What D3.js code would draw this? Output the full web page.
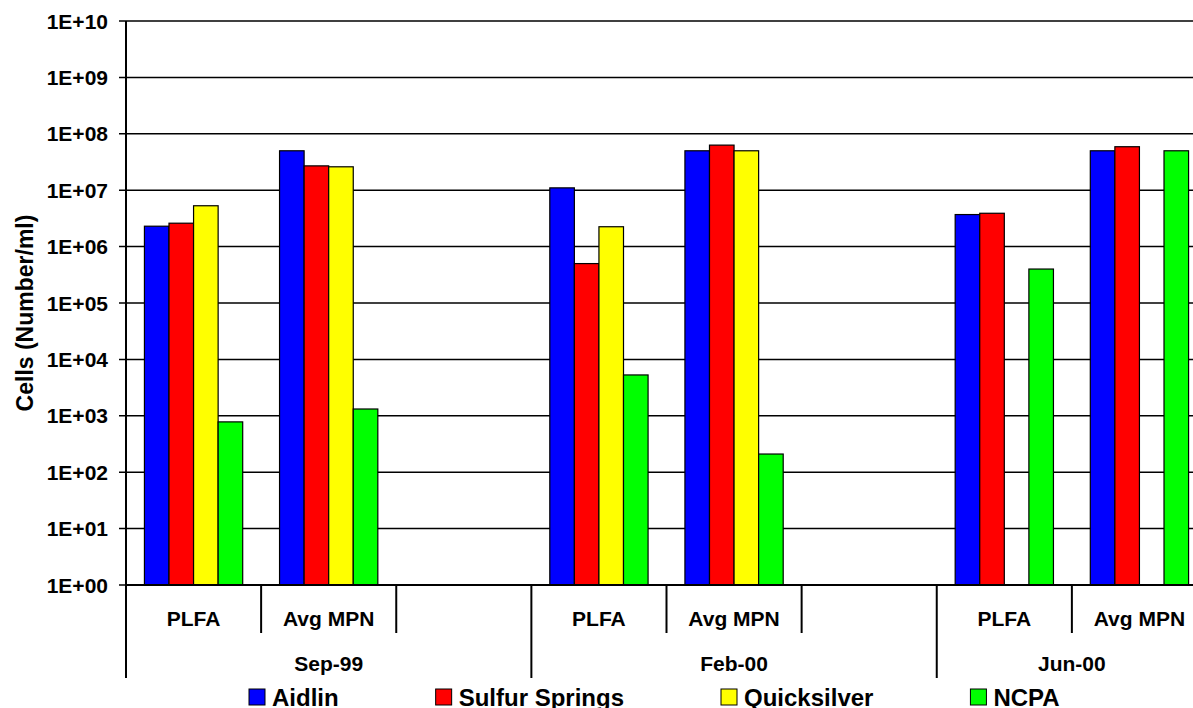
<!DOCTYPE html>
<html lang="en">
<head>
<meta charset="utf-8">
<title>Cells per ml</title>
<script src="https://cdn.jsdelivr.net/npm/d3@7"></script>
<style>
    body { margin: 0; padding: 0; background: #fff; }
    svg { display: block; font-family: "Liberation Sans", Arial, sans-serif; font-weight: bold; }
    .tick-label { font-size: 21px; }
    .cat-label { font-size: 21px; }
    .legend text { font-size: 24px; }
</style>
</head>
<body>
<svg id="chart" width="1193" height="708"></svg>
<script>
// slots along the x axis (blank slot separates the sampling dates)
var categories = ["PLFA", "Avg MPN", "", "PLFA", "Avg MPN", "", "PLFA", "Avg MPN"];
var periods = ["Sep-99", "Sep-99", "Sep-99", "Feb-00", "Feb-00", "Feb-00", "Jun-00", "Jun-00"];

var seriesNames = ["Aidlin", "Sulfur Springs", "Quicksilver", "NCPA"];
var seriesColors = ["#0000ff", "#ff0000", "#ffff00", "#00ff00"];

var aidlin        = [2.3e6, 5.0e7, null, 1.1e7,  5.0e7, null, 3.7e6, 5.0e7];
var sulfurSprings = [2.6e6, 2.7e7, null, 5.0e5,  6.3e7, null, 3.9e6, 5.9e7];
var quicksilver   = [5.3e6, 2.6e7, null, 2.25e6, 5.0e7, null, null,  null];
var ncpa          = [780,   1320,  null, 5300,   210,   null, 4.0e5, 5.0e7];

var yTicks = [1, 1e1, 1e2, 1e3, 1e4, 1e5, 1e6, 1e7, 1e8, 1e9, 1e10];

var seriesValues = [aidlin, sulfurSprings, quicksilver, ncpa];

var svg = d3.select("#chart");
var plotLeft = 126, plotRight = 1207, plotTop = 21, plotBottom = 585;

var x = d3.scaleBand()
    .domain(d3.range(categories.length))
    .range([plotLeft, plotRight])
    .paddingInner(0)
    .paddingOuter(0);

var xInner = d3.scaleBand()
    .domain(seriesNames)
    .range([0, x.bandwidth()])
    .paddingInner(0)
    .paddingOuter(0.75);

var y = d3.scaleLog()
    .domain([1, 1e10])
    .range([plotBottom, plotTop]);

var color = d3.scaleOrdinal().domain(seriesNames).range(seriesColors);

// gridlines
svg.append("g")
    .selectAll("line")
    .data(yTicks)
    .enter().append("line")
    .attr("x1", plotLeft - 7)
    .attr("x2", plotRight)
    .attr("y1", function (d) { return y(d); })
    .attr("y2", function (d) { return y(d); })
    .attr("stroke", "#000")
    .attr("stroke-width", 1.5);

// y tick labels
svg.append("g")
    .selectAll("text")
    .data(yTicks)
    .enter().append("text")
    .attr("class", "tick-label")
    .attr("x", 108)
    .attr("y", function (d) { return y(d); })
    .attr("dy", "0.36em")
    .attr("text-anchor", "end")
    .text(function (d) {
        var e = Math.round(Math.log10(d));
        return "1E+" + (e < 10 ? "0" + e : e);
    });

// bars
var rows = [];
seriesValues.forEach(function (vals, s) {
    vals.forEach(function (v, i) {
        if (v != null) rows.push({ series: seriesNames[s], slot: i, value: v });
    });
});

svg.append("g")
    .selectAll("rect")
    .data(rows)
    .enter().append("rect")
    .attr("x", function (d) { return x(d.slot) + xInner(d.series); })
    .attr("width", xInner.bandwidth())
    .attr("y", function (d) { return y(d.value); })
    .attr("height", function (d) { return y(1) - y(d.value); })
    .attr("fill", function (d) { return color(d.series); })
    .attr("stroke", "#000")
    .attr("stroke-width", 1.2);

// axes
svg.append("line")
    .attr("x1", plotLeft).attr("x2", plotLeft)
    .attr("y1", plotTop).attr("y2", 678)
    .attr("stroke", "#000").attr("stroke-width", 2);

svg.append("line")
    .attr("x1", plotLeft).attr("x2", plotRight)
    .attr("y1", plotBottom).attr("y2", plotBottom)
    .attr("stroke", "#000").attr("stroke-width", 2);

// separator ticks below axis
var bounds = d3.range(categories.length + 1);
svg.append("g")
    .selectAll("line")
    .data(bounds)
    .enter().append("line")
    .attr("x1", function (i) { return plotLeft + i * x.step(); })
    .attr("x2", function (i) { return plotLeft + i * x.step(); })
    .attr("y1", plotBottom)
    .attr("y2", function (i) {
        var isGroupEdge = i === 0 || i === categories.length || periods[i] !== periods[i - 1];
        return isGroupEdge ? 678 : 633;
    })
    .attr("stroke", "#000")
    .attr("stroke-width", 2);

// category labels
svg.append("g")
    .selectAll("text")
    .data(categories)
    .enter().append("text")
    .attr("class", "cat-label")
    .attr("x", function (d, i) { return x(i) + x.bandwidth() / 2; })
    .attr("y", 626)
    .attr("text-anchor", "middle")
    .text(function (d) { return d; });

// period labels
var periodNames = Array.from(new Set(periods));
svg.append("g")
    .selectAll("text")
    .data(periodNames)
    .enter().append("text")
    .attr("class", "cat-label")
    .attr("x", function (p) {
        var first = periods.indexOf(p), last = periods.lastIndexOf(p);
        return (x(first) + x(last) + x.bandwidth()) / 2;
    })
    .attr("y", 671)
    .attr("text-anchor", "middle")
    .text(function (p) { return p; });

// y axis title
svg.append("text")
    .attr("transform", "translate(33,313) rotate(-90)")
    .attr("text-anchor", "middle")
    .style("font-size", "23px")
    .text("Cells (Number/ml)");

// legend
var legend = svg.append("g").attr("class", "legend");
var lx = 249;
seriesNames.forEach(function (name) {
    var item = legend.append("g").attr("transform", "translate(" + lx + ",689)");
    item.append("rect")
        .attr("width", 16).attr("height", 16)
        .attr("fill", color(name))
        .attr("stroke", "#000").attr("stroke-width", 1);
    var t = item.append("text")
        .attr("x", 23)
        .attr("y", 17)
        .text(name);
    lx += 23 + t.node().getComputedTextLength() + 97;
});
</script>
</body>
</html>
